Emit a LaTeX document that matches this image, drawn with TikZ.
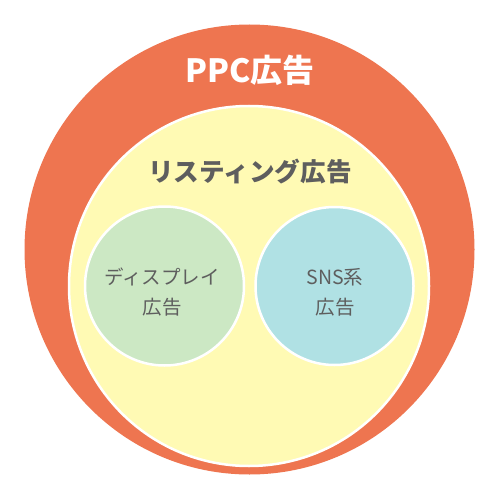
\documentclass[tikz,border=0pt]{standalone}
\usepackage{fontspec}
\newfontfamily\cjk{Noto Sans CJK JP}
\definecolor{ppc}{HTML}{EE7550}
\definecolor{listing}{HTML}{FFFAB4}
\definecolor{disp}{HTML}{CCE8C4}
\definecolor{sns}{HTML}{B0E1E4}
\definecolor{txt}{HTML}{5E5E5E}
\begin{document}
\begin{tikzpicture}[x=1pt,y=-1pt,
  ring/.style={circle,draw=white,line width=2.5pt,inner sep=0pt},
  lbl/.style={font=\cjk, text=txt, align=center}]
\useasboundingbox (0,0) rectangle (500,500);
\fill[white] (0,0) rectangle (500,500);
\node[circle,fill=ppc,minimum size=450pt,inner sep=0pt] (ppcc) at (249.5,249.5) {};
\node[ring,fill=listing,minimum size=360pt] (lst) at (249,286) {};
\node[ring,fill=disp,minimum size=159pt] (dsp) at (164.5,286) {};
\node[ring,fill=sns,minimum size=158pt] (snsc) at (334.5,286) {};
\node[font=\cjk\bfseries\fontsize{32}{36}\selectfont, text=white] (t1) at (250,70) {PPC広告};
\node[font=\cjk\bfseries\fontsize{25.6}{30}\selectfont, text=txt] (t2) at (250,172) {リスティング広告};
\node[lbl, font=\cjk\fontsize{19.5}{30}\selectfont] (t3) at (162,292) {ディスプレイ\\広告};
\node[lbl, font=\cjk\fontsize{19.5}{30}\selectfont] (t4) at (335,292) {SNS系\\広告};
\end{tikzpicture}
\end{document}
